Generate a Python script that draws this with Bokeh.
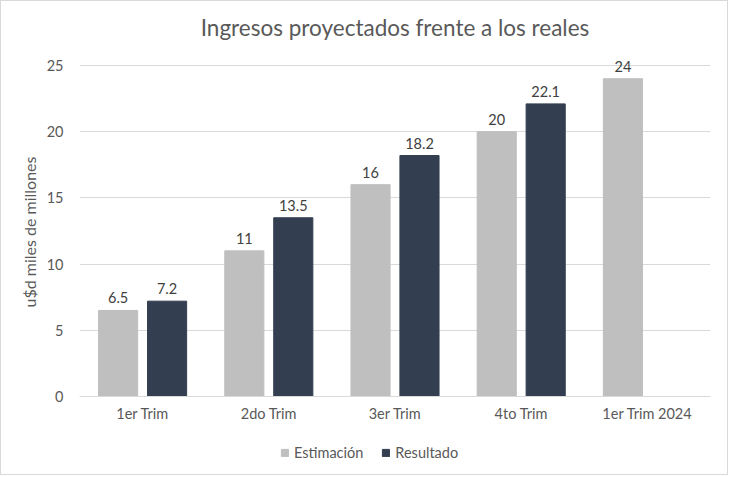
from bokeh.plotting import figure
from bokeh.models import (ColumnDataSource, LabelSet, Legend, LegendItem, FactorRange,
                          FixedTicker, Span, Title)
from bokeh.core.properties import value
from bokeh.transform import dodge
from bokeh.embed import file_html
from bokeh.resources import INLINE

categories = ["1er Trim", "2do Trim", "3er Trim", "4to Trim", "1er Trim 2024"]
estimacion = [6.5, 11, 16, 20, 24]
resultado_cats = ["1er Trim", "2do Trim", "3er Trim", "4to Trim"]
resultado = [7.2, 13.5, 18.2, 22.1]
y_ticks = [0, 5, 10, 15, 20, 25]

FONT = "Lato"
GRAY = "#bfbfbf"
DARK = "#333f50"
TXT = "#595959"
GRID = "#d9d9d9"

src_e = ColumnDataSource(dict(x=categories, y=estimacion, t=[f"{v:g}" for v in estimacion]))
src_r = ColumnDataSource(dict(x=resultado_cats, y=resultado, t=[f"{v:g}" for v in resultado]))
src_c = ColumnDataSource(dict(x=categories, y=[0] * len(categories), t=categories))

p = figure(width=728, height=475, x_range=FactorRange(*categories), y_range=(-5.74, 26.51),
           output_backend="svg", toolbar_location=None,
           min_border_left=78, min_border_right=19, min_border_top=44, min_border_bottom=4)
p.styles = {"border": "1px solid #d9d9d9"}

off = 0.194
w = 0.31
r_e = p.vbar(x=dodge("x", -off, range=p.x_range), top="y", width=w, source=src_e, color=GRAY)
r_r = p.vbar(x=dodge("x", off, range=p.x_range), top="y", width=w, source=src_r, color=DARK)

p.add_layout(Span(location=0, dimension="width", line_color=GRID, line_width=1))

for src, d in ((src_e, -off), (src_r, off)):
    p.add_layout(LabelSet(x=dodge("x", d, range=p.x_range), y="y", text="t", source=src,
                          text_align="center", text_baseline="bottom", y_offset=7,
                          text_font=value(FONT), text_font_size="14.5px", text_color="#404040"))

p.add_layout(LabelSet(x="x", y="y", text="t", source=src_c, text_align="center",
                      text_baseline="top", y_offset=-8, text_font=value(FONT),
                      text_font_size="14.5px", text_color=TXT))

p.title.text = "Ingresos proyectados frente a los reales"
p.title.align = "center"
p.title.text_font = FONT
p.title.text_font_size = "22.5px"
p.title.text_font_style = "normal"
p.title.text_color = TXT

p.yaxis.ticker = FixedTicker(ticks=y_ticks)
p.yaxis.major_label_text_font = FONT
p.yaxis.major_label_text_font_size = "14.5px"
p.yaxis.major_label_text_color = TXT
p.yaxis.axis_line_color = None
p.yaxis.major_tick_line_color = None
p.yaxis.minor_tick_line_color = None
p.yaxis.major_label_standoff = 10

p.add_layout(Title(text="u$d miles de millones", align="left", offset=165,
                   text_font=FONT, text_font_size="16px", text_font_style="normal",
                   text_color=TXT), "left")

p.xaxis.visible = False
p.xgrid.grid_line_color = None
p.ygrid.grid_line_color = GRID
p.ygrid.ticker = FixedTicker(ticks=y_ticks)
p.outline_line_color = None
p.x_range.range_padding = 0
p.x_range.group_padding = 0

legend = Legend(items=[LegendItem(label="Estimación", renderers=[r_e]),
                       LegendItem(label="Resultado", renderers=[r_r])],
                orientation="horizontal", location=(201, 11),
                label_text_font=FONT, label_text_font_size="14.5px", label_text_color=TXT,
                glyph_width=9, glyph_height=9, spacing=18, label_standoff=5,
                border_line_color=None, background_fill_alpha=0, padding=2, margin=0)
p.add_layout(legend, "center")

open("out.html", "w").write(file_html(p, INLINE))
